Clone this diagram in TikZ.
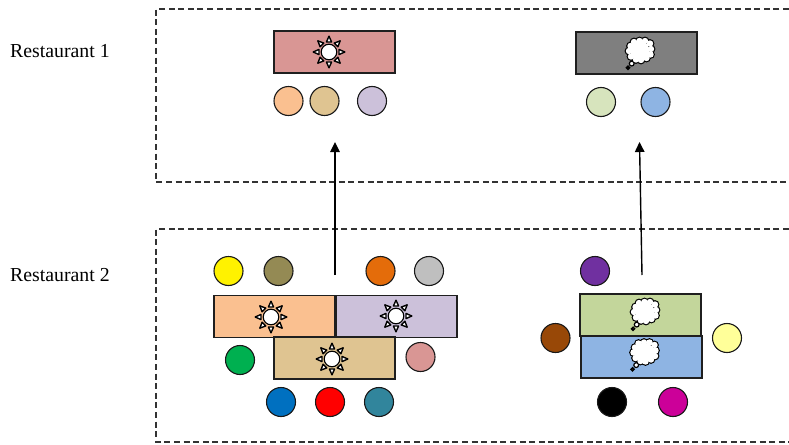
\documentclass[tikz,border=0pt]{standalone}
\usepackage{fontspec}
\setmainfont{Liberation Serif}
\usetikzlibrary{arrows.meta}
\definecolor{cOrange}{HTML}{FAC090}
\definecolor{cLilac}{HTML}{CCC1DA}
\definecolor{cTan}{HTML}{DFC491}
\definecolor{cPink}{HTML}{D99694}
\definecolor{cGray}{HTML}{7F7F7F}
\definecolor{cPale}{HTML}{D7E4BD}
\definecolor{cSky}{HTML}{8EB4E3}
\definecolor{cLeaf}{HTML}{C3D69B}
\definecolor{cOlive}{HTML}{948A54}
\definecolor{cPumpkin}{HTML}{E46C0A}
\definecolor{cSilver}{HTML}{BFBFBF}
\definecolor{cGreen}{HTML}{00B050}
\definecolor{cBlue}{HTML}{0070C0}
\definecolor{cTeal}{HTML}{31859C}
\definecolor{cViolet}{HTML}{7030A0}
\definecolor{cBrown}{HTML}{984807}
\definecolor{cLemon}{HTML}{FFFF99}
\definecolor{cMagenta}{HTML}{CC0099}
\tikzset{
  x=1pt,y=-1pt,
  dot/.style={circle,draw=black!90,line width=1.1pt,minimum size=29pt,inner sep=0pt,fill=#1},
  tablebox/.style={rectangle,draw=black!88,line width=1.5pt,minimum width=121pt,minimum height=42pt,inner sep=0pt,fill=#1},
  zone/.style={draw=black!80,line width=1.1pt,dash pattern=on 6pt off 3.6pt},
  link/.style={draw=black,line width=1.4pt,-{Triangle[length=10pt,width=9.5pt]}},
  label/.style={anchor=west,inner sep=0pt,font=\fontsize{19.8}{22}\selectfont},
  sun/.pic={
    \foreach \a in {0,45,...,315}{
      \draw[fill=white,line width=1.4pt,line join=round,rotate=\a] (10,-2.6) -- (15.8,0) -- (10,2.6) -- cycle;
    }
    \draw[fill=white,line width=1.1pt] (0,0) circle (7.8);
  },
  cloud/.pic={
    \foreach \px/\py/\r in {-9.5/-5/3.2,-6/-9/3.2,-0.5/-10/3.2,5/-10/3.2,10/-7.5/3.2,11/-2/3.2,10.5/3.5/3.2,6.5/7/3.2,1/9/3.2,-4/8.5/3.2,-9/5.5/3.2,-11/0/3.2,0/0/9.5}{
      \fill[black] (\px,\py) circle (\r+1.2);
    }
    \draw[fill=white,line width=1.2pt] (-8.3,12.6) circle (2.4);
    \draw[fill=white,line width=1.5pt] (-12,16.8) circle (1.5);
    \foreach \px/\py/\r in {-9.5/-5/3.2,-6/-9/3.2,-0.5/-10/3.2,5/-10/3.2,10/-7.5/3.2,11/-2/3.2,10.5/3.5/3.2,6.5/7/3.2,1/9/3.2,-4/8.5/3.2,-9/5.5/3.2,-11/0/3.2,0/0/9.5}{
      \fill[white] (\px,\py) circle (\r);
    }
    \fill[white] (-8,-7) rectangle (8,6);
  }
}
\begin{document}
\begin{tikzpicture}
\useasboundingbox (0,0) rectangle (789,444);
% zones
\coordinate (zaTR) at (789,9);
\coordinate (zaTL) at (156,9);
\coordinate (zaBL) at (156,182);
\coordinate (zaBR) at (789,182);
\coordinate (zbTR) at (789,229);
\coordinate (zbTL) at (156,229);
\coordinate (zbBL) at (156,442);
\coordinate (zbBR) at (789,442);
\draw[zone] (zaTR) -- (zaTL) -- (zaBL) -- (zaBR);
\draw[zone] (zbTR) -- (zbTL) -- (zbBL) -- (zbBR);
% labels
\node[label] (r1) at (10,51) {Restaurant 1};
\node[label] (r2) at (10,275) {Restaurant 2};
% restaurant 1
\node[tablebox=cPink] (t1) at (334.5,52) {};
\node[tablebox=cGray] (t2) at (636.5,53) {};
\pic at (329,52) {sun};
\pic at (640,51) {cloud};
\node[dot=cOrange] (a1) at (288.5,101) {};
\node[dot=cTan] (a2) at (324.5,101) {};
\node[dot=cLilac] (a3) at (372,101) {};
\node[dot=cPale] (a4) at (601,102) {};
\node[dot=cSky] (a5) at (655.5,102) {};
% restaurant 2
\node[dot=yellow] (b1) at (228.5,271) {};
\node[dot=cOlive] (b2) at (278.5,271) {};
\node[dot=cPumpkin] (b3) at (380.5,271) {};
\node[dot=cSilver] (b4) at (429,271) {};
\node[tablebox=cOrange] (t3) at (274.5,316.5) {};
\node[tablebox=cLilac] (t4) at (396.5,316.5) {};
\node[tablebox=cTan] (t5) at (334.5,358) {};
\pic at (271,317) {sun};
\pic at (396,316) {sun};
\pic at (332,359) {sun};
\node[dot=cGreen] (b5) at (240,360) {};
\node[dot=cPink] (b6) at (420.5,357) {};
\node[dot=cBlue] (b7) at (281,402) {};
\node[dot=red] (b8) at (330,402) {};
\node[dot=cTeal] (b9) at (379,402) {};
\node[dot=cViolet] (c1) at (595,271) {};
\node[tablebox=cLeaf] (t6) at (640.5,315) {};
\node[tablebox=cSky] (t7) at (641.5,357) {};
\pic at (645,312) {cloud};
\pic at (644.5,352.5) {cloud};
\node[dot=cBrown] (c2) at (555.5,338) {};
\node[dot=cLemon] (c3) at (727,338) {};
\node[dot=black] (c4) at (612,402) {};
\node[dot=cMagenta] (c5) at (673,402) {};
% arrows
\coordinate (s1) at (335,275);
\coordinate (e1) at (335,142);
\coordinate (s2) at (642,275);
\coordinate (e2) at (639.5,142);
\draw[link] (s1) -- (e1);
\draw[link] (s2) -- (e2);
\end{tikzpicture}
\end{document}
